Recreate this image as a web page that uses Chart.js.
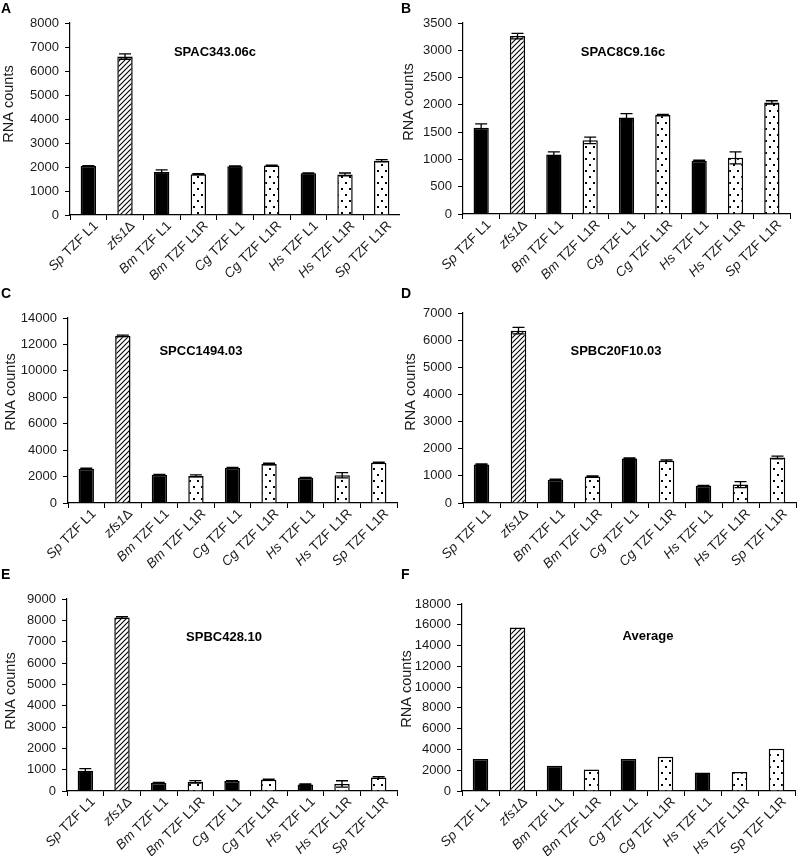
<!DOCTYPE html>
<html>
<head>
<meta charset="utf-8">
<script src="https://cdn.jsdelivr.net/npm/chart.js@4.4.1/dist/chart.umd.min.js"></script>
<style>
  body { margin: 0; background: #fff; }
  #wrap { position: relative; width: 800px; height: 856px; }
  canvas { position: absolute; }
</style>
</head>
<body>
<div id="wrap">
  <canvas id="pA" width="400" height="280" style="left:0;top:0"></canvas>
  <canvas id="pB" width="400" height="280" style="left:400px;top:0"></canvas>
  <canvas id="pC" width="400" height="292" style="left:0;top:280px"></canvas>
  <canvas id="pD" width="400" height="292" style="left:400px;top:280px"></canvas>
  <canvas id="pE" width="400" height="296" style="left:0;top:560px"></canvas>
  <canvas id="pF" width="400" height="296" style="left:400px;top:560px"></canvas>
</div>
<script>
// Datos: categorías comunes y valores (RNA counts) de cada panel
const categories = ['Sp TZF L1', 'zfs1Δ', 'Bm TZF L1', 'Bm TZF L1R', 'Cg TZF L1', 'Cg TZF L1R', 'Hs TZF L1', 'Hs TZF L1R', 'Sp TZF L1R'];

const valuesA = [2040, 6600, 1790, 1700, 2030, 2060, 1740, 1690, 2260];
const errorsA = [20, 110, 90, 20, 20, 20, 10, 60, 50];

const valuesB = [1580, 3260, 1090, 1350, 1770, 1815, 975, 1030, 2045];
const errorsB = [70, 50, 50, 60, 70, 10, 10, 110, 30];

const valuesC = [2600, 12650, 2130, 2050, 2650, 2950, 1900, 2100, 3050];
const errorsC = [30, 60, 40, 80, 40, 60, 30, 200, 50];

const valuesD = [1420, 6350, 860, 980, 1640, 1560, 640, 680, 1680];
const errorsD = [20, 120, 20, 20, 20, 30, 10, 110, 50];

const valuesE = [950, 8130, 380, 430, 470, 530, 310, 330, 630];
const errorsE = [100, 40, 20, 60, 20, 30, 20, 150, 40];

const valuesF = [3090, 15740, 2420, 2060, 3090, 3290, 1770, 1830, 4060];
const errorsF = [];

const FONT = '"Liberation Sans", Arial, sans-serif';

// Patrones de relleno (rayado y punteado)
function makeHatch() {
    const c = document.createElement('canvas');
    c.width = 5; c.height = 5;
    const g = c.getContext('2d');
    g.fillStyle = '#fff'; g.fillRect(0, 0, 5, 5);
    g.strokeStyle = '#000'; g.lineWidth = 1.1;
    g.beginPath();
    g.moveTo(-1, 6); g.lineTo(6, -1);
    g.moveTo(-1, 1); g.lineTo(1, -1);
    g.moveTo(4, 6); g.lineTo(6, 4);
    g.stroke();
    return g.createPattern(c, 'repeat');
}
function makeDots() {
    const c = document.createElement('canvas');
    c.width = 8; c.height = 12;
    const g = c.getContext('2d');
    g.fillStyle = '#fff'; g.fillRect(0, 0, 8, 12);
    g.fillStyle = '#000';
    g.fillRect(1, 2, 2, 2);
    g.fillRect(5, 8, 2, 2);
    return g.createPattern(c, 'repeat');
}
const hatch = makeHatch();
const dots = makeDots();

function fillFor(label) {
    if (label.startsWith('zfs1')) return hatch;
    if (label.endsWith('L1R')) return dots;
    return '#000';
}

// Parte en cursiva (especie / gen) y resto
function splitLabel(label) {
    const m = label.match(/^([A-Za-z0-9]+)(.*)$/);
    return m ? [m[1], m[2]] : ['', label];
}

// Plugin: barras de error, etiquetas del eje X, títulos
const overlay = {
    id: 'overlay',
    afterDatasetsDraw(chart, args, opts) {
        const ctx = chart.ctx;
        const meta = chart.getDatasetMeta(0);
        const ys = chart.scales.y;
        const data = chart.data.datasets[0].data;
        ctx.save();
        ctx.strokeStyle = '#000';
        ctx.lineWidth = 1.3;
        (opts.errors || []).forEach((e, i) => {
            if (!e) return;
            const x = meta.data[i].x;
            const y1 = ys.getPixelForValue(data[i] + e);
            const y2 = ys.getPixelForValue(data[i] - e);
            ctx.beginPath();
            ctx.moveTo(x, y1); ctx.lineTo(x, y2);
            ctx.moveTo(x - 6, y1); ctx.lineTo(x + 6, y1);
            ctx.moveTo(x - 6, y2); ctx.lineTo(x + 6, y2);
            ctx.stroke();
        });
        ctx.restore();
    },
    afterDraw(chart, args, opts) {
        const ctx = chart.ctx;
        const xs = chart.scales.x;
        ctx.save();
        ctx.fillStyle = '#1a1a1a';
        // etiquetas X giradas 45°
        const italic = 'italic 13.5px ' + FONT;
        const normal = '13.5px ' + FONT;
        chart.data.labels.forEach((lab, i) => {
            const cx = xs.getPixelForValue(i);
            const [it, rest] = splitLabel(lab);
            ctx.save();
            ctx.translate(cx + 3, xs.top + 4);
            ctx.rotate(-Math.PI / 4);
            ctx.textBaseline = 'top';
            ctx.textAlign = 'left';
            ctx.font = italic;
            const w1 = ctx.measureText(it).width;
            ctx.font = normal;
            const w2 = ctx.measureText(rest).width;
            const x0 = -(w1 + w2);
            ctx.font = italic;
            ctx.fillText(it, x0, 0);
            ctx.font = normal;
            ctx.fillText(rest, x0 + w1, 0);
            ctx.restore();
        });
        // título del eje Y
        ctx.save();
        ctx.translate(opts.yTitle[0], opts.yTitle[1]);
        ctx.rotate(-Math.PI / 2);
        ctx.font = '14.5px ' + FONT;
        ctx.textAlign = 'center';
        ctx.textBaseline = 'middle';
        ctx.fillText('RNA counts', 0, 0);
        ctx.restore();
        // título del panel y letra
        ctx.fillStyle = '#000';
        ctx.font = 'bold 13px ' + FONT;
        ctx.textAlign = 'center';
        ctx.textBaseline = 'middle';
        ctx.fillText(opts.title, opts.titlePos[0], opts.titlePos[1]);
        ctx.font = 'bold 14px ' + FONT;
        ctx.textAlign = 'left';
        ctx.fillText(opts.letter, 1, opts.letterY);
        ctx.restore();
    }
};

function makePanel(id, values, errors, yMax, yStep, p) {
    const canvas = document.getElementById(id);
    return new Chart(canvas.getContext('2d'), {
        type: 'bar',
        data: {
            labels: categories,
            datasets: [{
                data: values,
                backgroundColor: categories.map(fillFor),
                borderColor: '#000',
                borderWidth: 1.5,
                barPercentage: 0.42,
                categoryPercentage: 1
            }]
        },
        options: {
            responsive: false,
            animation: false,
            devicePixelRatio: 1,
            layout: { padding: { top: p.top, right: p.right, left: 0, bottom: 0 } },
            plugins: {
                legend: { display: false },
                tooltip: { enabled: false },
                overlay: { errors: errors, title: p.title, titlePos: p.titlePos, letter: p.letter, letterY: p.letterY, yTitle: p.yTitle }
            },
            scales: {
                x: {
                    offset: true,
                    ticks: { display: false },
                    grid: { offset: true, drawOnChartArea: false, tickLength: 5, color: '#000', lineWidth: 1 },
                    border: { color: '#000', width: 1.2 },
                    afterFit(s) { s.height = p.xh; }
                },
                y: {
                    min: 0, max: yMax,
                    ticks: { stepSize: yStep, color: '#1a1a1a', font: { family: FONT, size: 13 }, padding: 6, callback: v => String(v) },
                    grid: { drawOnChartArea: false, tickLength: 5, color: '#000', lineWidth: 1 },
                    border: { color: '#000', width: 1.2 },
                    afterFit(s) { s.width = p.yw; }
                }
            }
        },
        plugins: [overlay]
    });
}

makePanel('pA', valuesA, errorsA, 8000, 1000,
    { top: 23, right: 0, xh: 65, yw: 70, title: 'SPAC343.06c', titlePos: [215, 52], letter: 'A', letterY: 9, yTitle: [9, 104] });
makePanel('pB', valuesB, errorsB, 3500, 500,
    { top: 23, right: 10, xh: 66, yw: 63, title: 'SPAC8C9.16c', titlePos: [223, 52], letter: 'B', letterY: 9, yTitle: [9, 102] });
makePanel('pC', valuesC, errorsC, 14000, 2000,
    { top: 38, right: 3, xh: 69, yw: 68, title: 'SPCC1494.03', titlePos: [201, 71], letter: 'C', letterY: 14, yTitle: [11, 112] });
makePanel('pD', valuesD, errorsD, 7000, 1000,
    { top: 33, right: 4, xh: 69, yw: 63, title: 'SPBC20F10.03', titlePos: [216, 71], letter: 'D', letterY: 14, yTitle: [11, 112] });
makePanel('pE', valuesE, errorsE, 9000, 1000,
    { top: 39, right: 3, xh: 65, yw: 67, title: 'SPBC428.10', titlePos: [224, 77], letter: 'E', letterY: 15, yTitle: [11, 131] });
makePanel('pF', valuesF, errorsF, 18000, 2000,
    { top: 44, right: 5, xh: 65, yw: 62, title: 'Average', titlePos: [248, 76], letter: 'F', letterY: 15, yTitle: [7, 129] });
</script>
</body>
</html>
